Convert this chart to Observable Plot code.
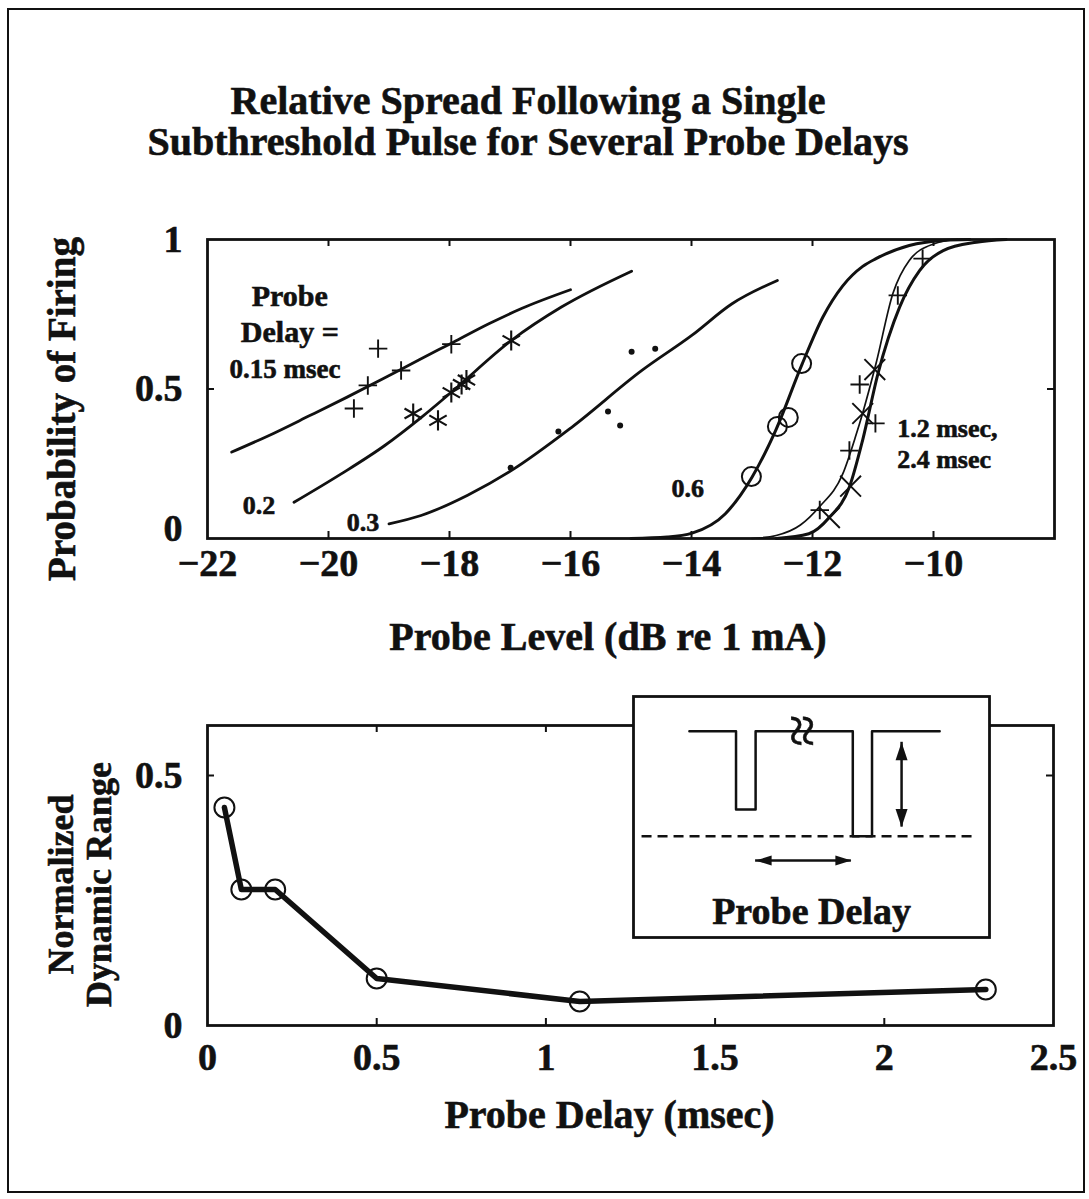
<!DOCTYPE html>
<html>
<head>
<meta charset="utf-8">
<script src="https://cdn.jsdelivr.net/npm/d3@7"></script>
<script src="https://cdn.jsdelivr.net/npm/@observablehq/plot@0.6"></script>
<style>
  body { margin: 0; background: #fff; }
  #fig { position: relative; width: 1089px; height: 1199px; background: #fff; color: #111;
         font-family: "Liberation Serif", "Times New Roman", serif; font-weight: bold; }
  #border { position: absolute; left: 7px; top: 8px; width: 1074px; height: 1181px; border: 2px solid #111; }
  #title { position: absolute; left: 0; top: 80px; width: 1056px; text-align: center; font-size: 40px; line-height: 41px;
           -webkit-text-stroke: 0.6px #111; }
  .panel { position: absolute; }
  .panel text { stroke: #111; stroke-width: 0.6px; }
</style>
</head>
<body>
<div id="fig">
  <div id="border"></div>
  <div id="title">Relative Spread Following a Single<br>Subthreshold Pulse for Several Probe Delays</div>
</div>
<script>
// ---------- Upper panel: probability of firing vs probe level ----------
const levelTicks = [-22, -20, -18, -16, -14, -12, -10];
const probTicks = [0, 0.5, 1];

// Measured points for each probe delay (dB re 1 mA, probability)
const d015Level = [-19.18, -19.35, -19.58, -18.80, -17.97];
const d015Prob  = [0.635, 0.512, 0.435, 0.562, 0.650];
const d02Level  = [-18.60, -18.19, -17.97, -17.80, -17.72, -16.98];
const d02Prob   = [0.418, 0.395, 0.488, 0.515, 0.530, 0.662];
const d03Level  = [-16.99, -16.20, -15.38, -15.18, -14.99, -14.60];
const d03Prob   = [0.237, 0.358, 0.425, 0.378, 0.625, 0.635];
const d06Level  = [-13.01, -12.58, -12.40, -12.18];
const d06Prob   = [0.207, 0.375, 0.405, 0.585];
const d12Level  = [-10.18, -10.59, -11.22, -10.96, -11.39, -11.88];
const d12Prob   = [0.936, 0.813, 0.515, 0.385, 0.294, 0.095];
const d24Level  = [-10.97, -11.17, -11.37, -11.72];
const d24Prob   = [0.565, 0.418, 0.175, 0.070];

// Fitted curves for each probe delay
const fit015Level = [-21.6, -21.0, -20.3, -19.7, -19.1, -18.5, -17.95, -17.35, -16.8, -16.0];
const fit015Prob  = [0.289, 0.343, 0.412, 0.472, 0.534, 0.598, 0.655, 0.718, 0.770, 0.832];
const fit02Level  = [-20.57, -19.79, -19.07, -18.46, -17.97, -16.98, -16.15, -14.99];
const fit02Prob   = [0.121, 0.216, 0.311, 0.406, 0.489, 0.662, 0.774, 0.894];
const fit03Level  = [-19.0, -18.47, -17.7, -16.98, -15.98, -14.82, -13.99, -13.33, -12.58];
const fit03Prob   = [0.049, 0.077, 0.145, 0.227, 0.372, 0.562, 0.680, 0.785, 0.863];
const fit06Level  = [-15.0, -14.4, -13.99, -13.44, -13.0, -12.61, -12.17, -11.83, -11.5, -11.17, -10.95, -10.4, -9.85, -9.4];
const fit06Prob   = [0.0, 0.005, 0.018, 0.083, 0.205, 0.361, 0.584, 0.740, 0.845, 0.910, 0.936, 0.980, 0.997, 1.0];
const fit12Level  = [-13.0, -12.6, -12.2, -11.89, -11.5, -11.29, -11.17, -10.95, -10.67, -10.4, -10.0, -9.6];
const fit12Prob   = [0.0, 0.010, 0.045, 0.105, 0.216, 0.340, 0.420, 0.585, 0.820, 0.930, 0.985, 1.0];
const fit24Level  = [-12.6, -12.06, -11.72, -11.39, -11.17, -10.92, -10.56, -10.23, -9.84, -9.29, -8.8];
const fit24Prob   = [0.0, 0.016, 0.071, 0.172, 0.330, 0.550, 0.774, 0.896, 0.963, 0.991, 1.0];

// ---------- Lower panel: normalized dynamic range vs probe delay ----------
const delayTicks = [0, 0.5, 1, 1.5, 2, 2.5];
const rangeTicks = [0, 0.5];
const probeDelay = [0.05, 0.1, 0.2, 0.5, 1.1, 2.3];
const dynamicRange = [0.436, 0.272, 0.272, 0.094, 0.048, 0.072];

// ---------- Stimulus schematic (arbitrary time / level units) ----------
const pulseTime  = [15.7, 28.8, 28.8, 34.3, 34.3, 61.6, 61.6, 67.0, 67.0, 86.0];
const pulseLevel = [85.6, 85.6, 53.1, 53.1, 85.6, 85.6, 42.0, 42.0, 85.6, 85.6];
const thresholdTime = [2.4, 95.6];
const thresholdLevel = 42.0;
const delayArrowTime = [34.3, 61.2];
const delayArrowLevel = 31.9;
const levelArrowTime = 75.3;
const levelArrowLevel = [45.8, 81.0];
const breakTime = 47.2;

const ink = "#111";
const serif = "'Liberation Serif', 'Times New Roman', serif";
const rows = (xs, ys) => xs.map((x, i) => ({x, y: ys[i]}));
const fmt = d3.format("~g");
const tickLen = 7;
const tickFont = 38;

const fig = document.getElementById("fig");
function place(svg, left, top) {
  svg.classList.add("panel");
  svg.style.left = left + "px";
  svg.style.top = top + "px";
  fig.appendChild(svg);
}
function innerTicks(xt, yt, frameW, frameH) {
  const o = {stroke: ink, strokeWidth: 2};
  return [
    Plot.ruleX(xt, {...o, insetTop: frameH - tickLen}),
    Plot.ruleX(xt, {...o, insetBottom: frameH - tickLen}),
    Plot.ruleY(yt, {...o, insetRight: frameW - tickLen}),
    Plot.ruleY(yt, {...o, insetLeft: frameW - tickLen})
  ];
}
const baseStyle = {fontFamily: serif, fontWeight: "bold", fontSize: "36px", color: ink, background: "transparent", overflow: "visible"};

// Upper panel
{
  const W = 1089, H = 500, ml = 207, mr = 35, mt = 59, mb = 142;
  const fw = W - ml - mr, fh = H - mt - mb;
  const line = (xs, ys, sw = 2.8) => Plot.line(rows(xs, ys), {x: "x", y: "y", curve: "monotone-x", stroke: ink, strokeWidth: sw});
  const svg = Plot.plot({
    width: W, height: H, marginLeft: ml, marginRight: mr, marginTop: mt, marginBottom: mb,
    style: baseStyle,
    x: {domain: [-22, -8], label: null},
    y: {domain: [0, 1], label: null},
    marks: [
      ...innerTicks(levelTicks.slice(1), [0.5], fw, fh),
      Plot.frame({stroke: ink, strokeWidth: 2.8}),
      Plot.axisX({ticks: levelTicks, tickSize: 0, tickPadding: 11, fontSize: tickFont, tickFormat: fmt}),
      Plot.axisY({ticks: [0.5, 1], tickSize: 0, tickPadding: 25, fontSize: tickFont, tickFormat: fmt}),
      Plot.axisY({ticks: [0], tickSize: 0, tickPadding: 25, fontSize: tickFont, tickFormat: fmt, dy: -10}),
      line(fit015Level, fit015Prob),
      line(fit02Level, fit02Prob),
      line(fit03Level, fit03Prob),
      line(fit06Level, fit06Prob, 3),
      line(fit12Level, fit12Prob, 1.7),
      line(fit24Level, fit24Prob, 3),
      Plot.dot(rows(d015Level, d015Prob), {x: "x", y: "y", symbol: "plus", r: 6, stroke: ink, strokeWidth: 1.9}),
      Plot.dot(rows(d02Level, d02Prob), {x: "x", y: "y", symbol: "asterisk", r: 9.5, stroke: ink, strokeWidth: 2.1}),
      Plot.dot(rows(d03Level, d03Prob), {x: "x", y: "y", r: 3, fill: ink, stroke: "none"}),
      Plot.dot(rows(d06Level, d06Prob), {x: "x", y: "y", r: 9.5, fill: "none", stroke: ink, strokeWidth: 2}),
      Plot.dot(rows(d12Level, d12Prob), {x: "x", y: "y", symbol: "plus", r: 6, stroke: ink, strokeWidth: 1.9}),
      Plot.dot(rows(d24Level, d24Prob), {x: "x", y: "y", symbol: "times", r: 9.5, stroke: ink, strokeWidth: 1.9}),
      // curve annotations
      Plot.text(["Probe"], {x: -20.64, y: 0.81, fontSize: 30}),
      Plot.text(["Delay ="], {x: -20.64, y: 0.69, fontSize: 30}),
      Plot.text(["0.15 msec"], {x: -20.72, y: 0.566, fontSize: 27}),
      Plot.text(["0.2"], {x: -21.15, y: 0.11, fontSize: 26}),
      Plot.text(["0.3"], {x: -19.43, y: 0.054, fontSize: 26}),
      Plot.text(["0.6"], {x: -14.06, y: 0.167, fontSize: 26}),
      Plot.text(["1.2 msec,"], {x: -10.6, y: 0.368, fontSize: 26, textAnchor: "start"}),
      Plot.text(["2.4 msec"], {x: -10.6, y: 0.264, fontSize: 26, textAnchor: "start"}),
      // axis titles
      Plot.text(["Probe Level (dB re 1 mA)"], {frameAnchor: "bottom", lineAnchor: "middle", textAnchor: "middle", dx: -23, dy: 99, fontSize: 40}),
      Plot.text(["Probability of Firing"], {frameAnchor: "left", textAnchor: "middle", lineAnchor: "middle", rotate: -90, dx: -145, dy: 20, fontSize: 39})
    ]
  });
  place(svg, 0, 180);
}

// Lower panel
{
  const W = 1089, H = 440, ml = 207, mr = 36, mt = 45, mb = 95;
  const fw = W - ml - mr, fh = H - mt - mb;
  const pts = rows(probeDelay, dynamicRange);
  const svg = Plot.plot({
    width: W, height: H, marginLeft: ml, marginRight: mr, marginTop: mt, marginBottom: mb,
    style: baseStyle,
    x: {domain: [0, 2.5], label: null},
    y: {domain: [0, 0.6], label: null},
    marks: [
      ...innerTicks(delayTicks.slice(1, -1), [0.5], fw, fh),
      Plot.frame({stroke: ink, strokeWidth: 2.8}),
      Plot.axisX({ticks: delayTicks, tickSize: 0, tickPadding: 18, fontSize: tickFont, tickFormat: fmt}),
      Plot.axisY({ticks: rangeTicks, tickSize: 0, tickPadding: 25, fontSize: tickFont, tickFormat: fmt}),
      Plot.line(pts, {x: "x", y: "y", stroke: ink, strokeWidth: 5.5}),
      Plot.dot(pts, {x: "x", y: "y", r: 10, fill: "none", stroke: ink, strokeWidth: 2}),
      Plot.text(["Probe Delay (msec)"], {frameAnchor: "bottom", lineAnchor: "middle", textAnchor: "middle", dx: -21, dy: 90, fontSize: 40}),
      Plot.text(["Normalized\nDynamic Range"], {frameAnchor: "left", textAnchor: "middle", lineAnchor: "middle", rotate: -90, dx: -128, dy: 9, fontSize: 36, lineHeight: 1.05})
    ]
  });
  place(svg, 0, 680);
}

// Stimulus schematic inset
{
  const W = 362, H = 247, m = 3;
  const svg = Plot.plot({
    width: W, height: H, margin: m,
    style: {...baseStyle, overflow: "visible"},
    x: {domain: [0, 100], axis: null},
    y: {domain: [0, 100], axis: null},
    marks: [
      Plot.frame({fill: "white", stroke: ink, strokeWidth: 2.8}),
      Plot.line(rows(pulseTime, pulseLevel), {x: "x", y: "y", stroke: ink, strokeWidth: 2.5}),
      Plot.ruleY([thresholdLevel], {x1: thresholdTime[0], x2: thresholdTime[1], stroke: ink, strokeWidth: 2.5, strokeDasharray: "10,6"}),
      Plot.text(["≈"], {x: breakTime, y: pulseLevel[0], rotate: 90, fontSize: 58, fontWeight: "normal", fill: ink}),
      // level arrow
      Plot.ruleX([levelArrowTime], {y1: levelArrowLevel[0], y2: levelArrowLevel[1], stroke: ink, strokeWidth: 2.5}),
      Plot.vector([levelArrowLevel[1]], {x: levelArrowTime, y: d => d, length: 18, rotate: 0, anchor: "end", shape: "spike", r: 6, fill: ink, stroke: "none"}),
      Plot.vector([levelArrowLevel[0]], {x: levelArrowTime, y: d => d, length: 18, rotate: 180, anchor: "end", shape: "spike", r: 6, fill: ink, stroke: "none"}),
      // delay arrow
      Plot.ruleY([delayArrowLevel], {x1: delayArrowTime[0], x2: delayArrowTime[1], stroke: ink, strokeWidth: 2.5}),
      Plot.vector([delayArrowTime[0]], {x: d => d, y: delayArrowLevel, length: 16, rotate: 270, anchor: "end", shape: "spike", r: 5, fill: ink, stroke: "none"}),
      Plot.vector([delayArrowTime[1]], {x: d => d, y: delayArrowLevel, length: 16, rotate: 90, anchor: "end", shape: "spike", r: 5, fill: ink, stroke: "none"}),
      Plot.text(["Probe Delay"], {frameAnchor: "bottom", lineAnchor: "middle", dy: -26, fontSize: 38})
    ]
  });
  place(svg, 630, 693);
}
</script>
</body>
</html>
